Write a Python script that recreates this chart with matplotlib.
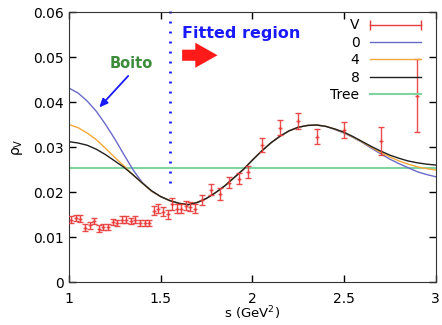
import matplotlib
matplotlib.use("Agg")
import matplotlib.pyplot as plt
from matplotlib.lines import Line2D

# data points (V channel)
s_data = [1.0125, 1.0375, 1.0625, 1.0875, 1.1125, 1.1375, 1.1625, 1.1875, 1.2125, 1.2375,
          1.2625, 1.2875, 1.3125, 1.3375, 1.3625, 1.3875, 1.4125, 1.4375, 1.4625, 1.4875,
          1.5125, 1.5375, 1.5625, 1.5875, 1.6125, 1.6375, 1.6625, 1.6875,
          1.725, 1.775, 1.825, 1.875, 1.925, 1.975, 2.05, 2.15, 2.25, 2.355, 2.5, 2.7, 2.9]
rho_data = [0.0139, 0.0143, 0.0141, 0.0121, 0.0126, 0.0136, 0.0119, 0.0122, 0.0122, 0.0133,
            0.0131, 0.0139, 0.0139, 0.0135, 0.0139, 0.0131, 0.0131, 0.0131, 0.0159, 0.0163,
            0.0156, 0.0151, 0.0174, 0.0163, 0.0163, 0.0170, 0.0167, 0.0163,
            0.0183, 0.0205, 0.0196, 0.0221, 0.0230, 0.0244, 0.0305, 0.0343, 0.0358, 0.0323,
            0.0338, 0.0314, 0.0414]
rho_err = [0.0007] * 18 + [0.0010, 0.0010, 0.0010, 0.0010, 0.0013, 0.0010, 0.0010, 0.0010,
                           0.0010, 0.0010, 0.0011, 0.0012, 0.0013, 0.0012, 0.0012, 0.0013,
                           0.0015, 0.0017, 0.0017, 0.0017, 0.0017, 0.0031, 0.0081]

# fitted curves, read every 0.05 GeV^2
s_fit = [1.00, 1.05, 1.10, 1.15, 1.20, 1.25, 1.30, 1.35, 1.40, 1.45,
         1.50, 1.55, 1.60, 1.65, 1.70, 1.75, 1.80, 1.85, 1.90, 1.95,
         2.00, 2.05, 2.10, 2.15, 2.20, 2.25, 2.30, 2.35, 2.40, 2.45,
         2.50, 2.55, 2.60, 2.65, 2.70, 2.75, 2.80, 2.85, 2.90, 2.95, 3.00]
fit_0 = [0.0431, 0.0420, 0.0402, 0.0379, 0.0350, 0.0318, 0.0283, 0.0249, 0.0221, 0.0202,
         0.0190, 0.0181, 0.0175, 0.0172, 0.0177, 0.0186, 0.0199, 0.0214, 0.0232, 0.0250,
         0.0271, 0.0291, 0.0309, 0.0324, 0.0336, 0.0344, 0.0348, 0.0349, 0.0346, 0.0339,
         0.0331, 0.0321, 0.0310, 0.0297, 0.0285, 0.0273, 0.0263, 0.0254, 0.0245, 0.0239, 0.0234]
fit_4 = [0.0350, 0.0343, 0.0331, 0.0316, 0.0297, 0.0277, 0.0258, 0.0238, 0.0220, 0.0202,
         0.0190, 0.0181, 0.0175, 0.0172, 0.0177, 0.0186, 0.0199, 0.0214, 0.0232, 0.0250,
         0.0271, 0.0291, 0.0309, 0.0324, 0.0336, 0.0344, 0.0348, 0.0349, 0.0346, 0.0340,
         0.0332, 0.0322, 0.0311, 0.0299, 0.0288, 0.0278, 0.0269, 0.0262, 0.0256, 0.0252, 0.0249]
fit_8 = [0.0312, 0.0309, 0.0304, 0.0295, 0.0283, 0.0269, 0.0255, 0.0238, 0.0220, 0.0203,
         0.0190, 0.0181, 0.0175, 0.0172, 0.0177, 0.0186, 0.0199, 0.0214, 0.0232, 0.0250,
         0.0271, 0.0291, 0.0309, 0.0324, 0.0336, 0.0344, 0.0348, 0.0349, 0.0346, 0.0340,
         0.0333, 0.0323, 0.0312, 0.0301, 0.0291, 0.0282, 0.0275, 0.0269, 0.0265, 0.0262, 0.0260]
tree_level = 0.0253
s_cut = 1.55

xticks = [1, 1.5, 2, 2.5, 3]
xtick_labels = ["1", "1.5", "2", "2.5", "3"]
yticks = [0, 0.01, 0.02, 0.03, 0.04, 0.05, 0.06]
ytick_labels = ["0", "0.01", "0.02", "0.03", "0.04", "0.05", "0.06"]

plt.rcParams['font.size'] = 10
fig = plt.figure(figsize=(4.42, 3.25), dpi=100)
ax = fig.add_axes([0.156, 0.132, 0.830, 0.831])

ax.errorbar(s_data, rho_data, yerr=rho_err, fmt='+', color='#e83a3a', ms=3,
            elinewidth=1, capsize=2.5, capthick=1, alpha=0.9, zorder=3)
ax.plot(s_fit, fit_0, color='#6a6ac8', lw=1)
ax.plot(s_fit, fit_4, color='#f5a83a', lw=1)
ax.plot(s_fit, fit_8, color='#202020', lw=1)
ax.axhline(tree_level, color='#7fd4a0', lw=1.5, zorder=1)

# fitted-region boundary
ax.plot([s_cut, s_cut], [0.0221, 0.0612], color='#1a1aff', lw=2,
        linestyle=(0, (0.7, 2.9)), clip_on=False)

ax.text(1.617, 0.0553, "Fitted region", color='#1a1aff', fontweight='bold',
        fontsize=11.5, va='center')
ax.annotate("", xy=(1.81, 0.0504), xytext=(1.617, 0.0504),
            arrowprops=dict(arrowstyle='simple,head_length=0.8,head_width=0.9,tail_width=0.4',
                            color='#ff1a1a', lw=0, mutation_scale=20,
                            shrinkA=0, shrinkB=0))
ax.text(1.223, 0.0485, "Boito", color='#3c8c3c', fontweight='bold', fontsize=10.5,
        va='center')
ax.annotate("", xy=(1.165, 0.0388), xytext=(1.323, 0.0458),
            arrowprops=dict(arrowstyle='-|>,head_length=0.5,head_width=0.22',
                            color='#1a1aff', lw=1.3, shrinkA=0, shrinkB=0))

ax.set_xlim(1, 3)
ax.set_ylim(0, 0.06)
ax.set_xticks(xticks, xtick_labels)
ax.set_yticks(yticks, ytick_labels)
ax.tick_params(direction='in', top=True, right=True, length=5, width=1)
ax.tick_params(axis='x', pad=7)
for sp in ax.spines.values():
    sp.set_color('#333333')
ax.set_xlabel("s (GeV$^2$)", fontsize=9.5, labelpad=-1)
ax.set_ylabel(r"ρ$_\mathrm{V}$", labelpad=6)

handles = [Line2D([0], [0], color='#e83a3a', lw=1, marker='|', ms=7),
           Line2D([0], [0], color='#6a6ac8', lw=1),
           Line2D([0], [0], color='#f5a83a', lw=1),
           Line2D([0], [0], color='#202020', lw=1),
           Line2D([0], [0], color='#7fd4a0', lw=1.5)]
ax.legend(handles, ["V", "0", "4", "8", "Tree"], loc='upper right', frameon=False,
          bbox_to_anchor=(1, 1.015), markerfirst=False, numpoints=2,
          handlelength=4.3, labelspacing=0.25, handletextpad=0.45, borderaxespad=0.35)

fig.savefig("out.png", dpi=100)
